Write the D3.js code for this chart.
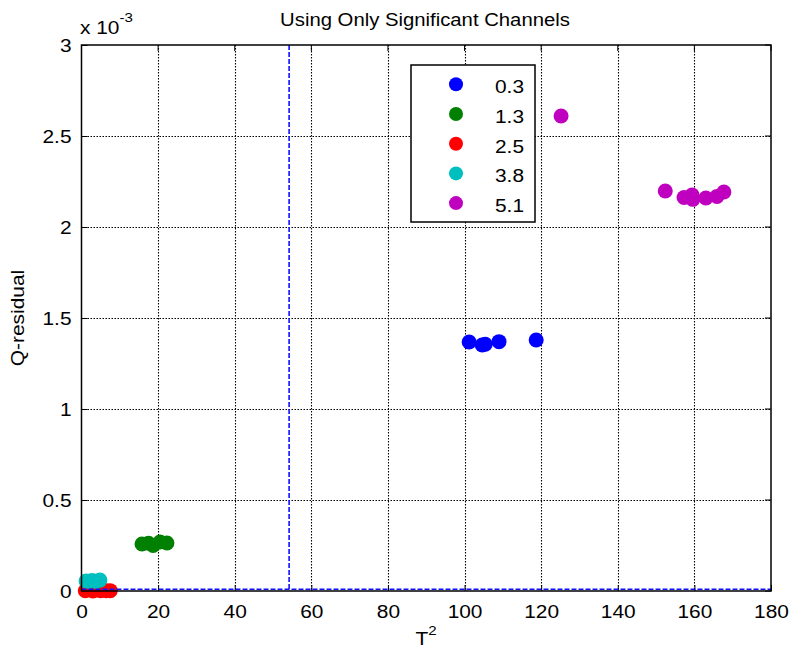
<!DOCTYPE html>
<html>
<head>
<meta charset="utf-8">
<script src="https://cdn.jsdelivr.net/npm/d3@7"></script>
<style>
  body { margin: 0; background: #fff; }
  svg { font-family: "Liberation Sans", Arial, sans-serif; }
</style>
</head>
<body>
<svg id="chart" width="790" height="650"></svg>
<script>
// Scores per group: Hotelling T^2 (x) and Q-residual (y)
const groups = ["0.3", "1.3", "2.5", "3.8", "5.1"];
const colors = ["#0000ff", "#008000", "#ff0000", "#00bfbf", "#bf00bf"];

const t2_03 = [101.2, 104.6, 105.4, 109.0, 118.7];
const q_03  = [0.001368, 0.001352, 0.001356, 0.001370, 0.001379];

const t2_13 = [15.8, 18.7, 20.5, 22.3, 17.5];
const q_13  = [0.000258, 0.000250, 0.000269, 0.000264, 0.000262];

const t2_25 = [1.0, 3.0, 5.0, 6.5, 7.5];
const q_25  = [0.000001, 0.000000, 0.000002, 0.000001, 0.000002];

const t2_38 = [1.2, 2.8, 3.8, 4.8, 2.0];
const q_38  = [0.000055, 0.000058, 0.000052, 0.000060, 0.000054];

const t2_51 = [125.2, 152.4, 157.3, 159.4, 159.6, 163.0, 165.9, 167.7];
const q_51  = [0.002610, 0.002198, 0.002162, 0.002176, 0.002152, 0.002159, 0.002168, 0.002192];

// Control limits
const t2Limit = 54.2;
const qLimit = 0.000010;

const xTicks = [0, 20, 40, 60, 80, 100, 120, 140, 160, 180];
const yTicks = [0, 0.0005, 0.001, 0.0015, 0.002, 0.0025, 0.003];

const seriesX = [t2_03, t2_13, t2_25, t2_38, t2_51];
const seriesY = [q_03, q_13, q_25, q_38, q_51];

const svg = d3.select("#chart");
const m = { left: 81.5, right: 771, top: 45, bottom: 591 };
const SX = 1.16; // horizontal stretch of the text glyphs

const x = d3.scaleLinear().domain([0, 180]).range([m.left, m.right]);
const y = d3.scaleLinear().domain([0, 0.003]).range([m.bottom, m.top]);

// Text helper: glyphs slightly widened around the anchor point
function label(parent, tx, ty, str, size, anchor, rot) {
  const g = parent.append("g")
    .attr("transform", `translate(${tx},${ty})` + (rot ? ` rotate(${rot})` : "") + ` scale(${SX},1)`);
  return g.append("text").attr("text-anchor", anchor || "start")
    .attr("font-size", size).attr("fill", "#000").text(str);
}

// Grid
const grid = svg.append("g").attr("stroke", "#000").attr("stroke-width", 1.1)
  .attr("stroke-dasharray", "1.5,1.5");
grid.selectAll(".gx").data(xTicks.slice(1, -1)).enter().append("line")
  .attr("x1", d => Math.round(x(d)) + 0.5).attr("x2", d => Math.round(x(d)) + 0.5)
  .attr("y1", m.top).attr("y2", m.bottom);
grid.selectAll(".gy").data(yTicks.slice(1, -1)).enter().append("line")
  .attr("y1", d => Math.round(y(d)) + 0.5).attr("y2", d => Math.round(y(d)) + 0.5)
  .attr("x1", m.left).attr("x2", m.right);

// Axes with inward ticks
const xAxis = d3.axisBottom(x).tickValues(xTicks).tickSizeInner(-6).tickSizeOuter(0).tickPadding(0);
const yAxis = d3.axisLeft(y).tickValues(yTicks).tickSizeInner(-6).tickSizeOuter(0).tickPadding(0)
  .tickFormat(d => d3.format("")(+(d * 1000).toFixed(1)));

const gx = svg.append("g").attr("transform", `translate(0,${m.bottom})`).call(xAxis);
const gy = svg.append("g").attr("transform", `translate(${m.left},0)`).call(yAxis);
[gx, gy].forEach(g => {
  g.select(".domain").remove();
  g.selectAll("line").attr("stroke", "#000");
  g.selectAll("text").attr("font-size", 18).attr("fill", "#000")
    .attr("font-family", "Liberation Sans, Arial, sans-serif");
});
gx.selectAll("text").attr("y", 27).attr("dy", null).attr("transform", `scale(${SX},1)`);
gy.selectAll("text").attr("x", -10 / SX).attr("dy", "0.36em").attr("transform", `scale(${SX},1)`);

// Top/right ticks
svg.append("g").selectAll("line").data(xTicks).enter().append("line")
  .attr("x1", d => x(d)).attr("x2", d => x(d)).attr("y1", m.top).attr("y2", m.top + 6)
  .attr("stroke", "#000");
svg.append("g").selectAll("line").data(yTicks).enter().append("line")
  .attr("y1", d => y(d)).attr("y2", d => y(d)).attr("x1", m.right).attr("x2", m.right - 6)
  .attr("stroke", "#000");

// Points
seriesX.forEach((xs, i) => {
  svg.append("g").selectAll("circle").data(xs.map((v, j) => [v, seriesY[i][j]]))
    .enter().append("circle")
    .attr("cx", d => x(d[0])).attr("cy", d => y(d[1])).attr("r", 7.5)
    .attr("fill", colors[i]);
});

// Control limit lines
svg.append("line")
  .attr("x1", x(t2Limit)).attr("x2", x(t2Limit)).attr("y1", m.top).attr("y2", m.bottom)
  .attr("stroke", "#1010ff").attr("stroke-width", 1.6).attr("stroke-dasharray", "5,2");
svg.append("line")
  .attr("x1", m.left).attr("x2", m.right).attr("y1", y(qLimit)).attr("y2", y(qLimit))
  .attr("stroke", "#1010ff").attr("stroke-width", 1.6).attr("stroke-dasharray", "5,2");

// Plot box
svg.append("rect").attr("x", m.left).attr("y", m.top)
  .attr("width", m.right - m.left).attr("height", m.bottom - m.top)
  .attr("fill", "none").attr("stroke", "#000").attr("stroke-width", 1.5);

// Exponent label
const ex = label(svg, 80, 34, "", 18, "start");
ex.append("tspan").text("x 10");
ex.append("tspan").attr("dy", -12).attr("font-size", 13).text("-3");

// Title and axis labels
label(svg, 425, 26, "Using Only Significant Channels", 17.5, "middle");
const xl = label(svg, 426, 645, "", 18, "middle");
xl.append("tspan").text("T");
xl.append("tspan").attr("dy", -10).attr("font-size", 13).text("2");
label(svg, 24, 318, "Q-residual", 18, "middle", -90);

// Legend
const lg = svg.append("g");
lg.append("rect").attr("x", 411).attr("y", 65).attr("width", 124).attr("height", 157)
  .attr("fill", "#fff").attr("stroke", "#000").attr("stroke-width", 1.5);
groups.forEach((g, i) => {
  const cy = 84.3 + i * 29.7;
  lg.append("circle").attr("cx", 456).attr("cy", cy).attr("r", 7).attr("fill", colors[i]);
  label(lg, 524, cy + 9, g, 18, "end");
});
</script>
</body>
</html>
